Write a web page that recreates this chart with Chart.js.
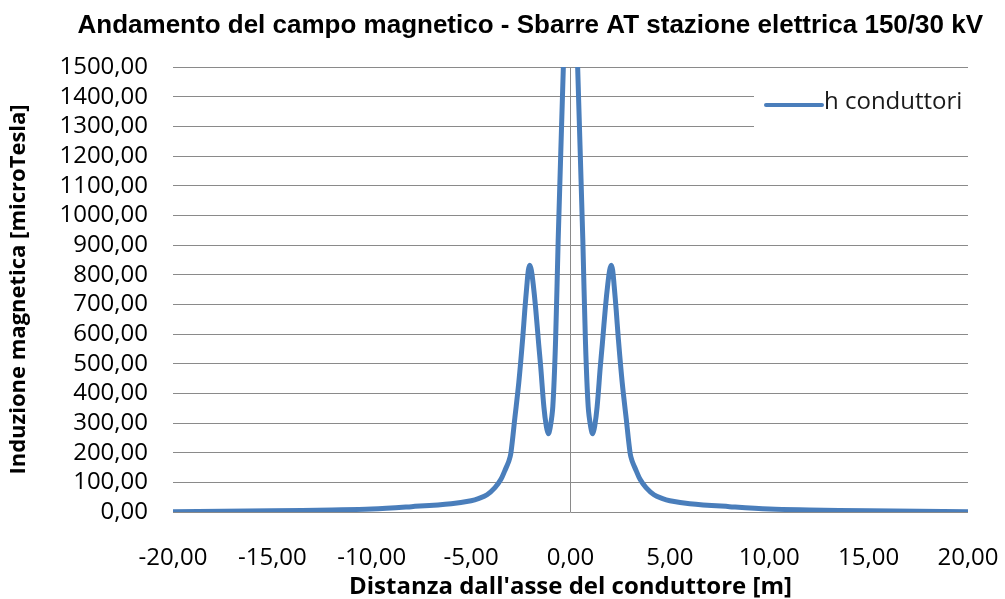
<!DOCTYPE html>
<html lang="it">
<head>
<meta charset="utf-8">
<title>Andamento del campo magnetico</title>
<script src="https://cdn.jsdelivr.net/npm/chart.js@4.4.1/dist/chart.umd.min.js"></script>
<style>
  html, body { margin: 0; padding: 0; background: #ffffff; }
  #box { width: 1005px; height: 599px; }
</style>
</head>
<body>
<div id="box"><canvas id="graficoCampo"></canvas></div>
<script>
// =========================================================
// 1. DATI
// =========================================================
// distanza dall'asse [m]
const distanze = [
  -20, -15, -12, -10, -8, -6, -5, -4.6, -4.2, -3.8, -3.5, -3.3, -3.1, -3.0, -2.8, -2.6, -2.4,
  -2.3, -2.2, -2.12, -2.05, -1.97, -1.88, -1.76, -1.6, -1.5, -1.34, -1.22, -1.12, -1.02,
  -0.89, -0.75, -0.62, -0.36, -0.15, 0,
  0.15, 0.36, 0.62, 0.75, 0.89, 1.02, 1.12, 1.22, 1.34, 1.5, 1.6, 1.76, 1.88, 1.97, 2.05,
  2.12, 2.2, 2.3, 2.4, 2.6, 2.8, 3.0, 3.1, 3.3, 3.5, 3.8, 4.2, 4.6, 5, 6, 8, 10, 12, 15, 20
];
// induzione magnetica [microTesla]
const induzione = [
  1, 4, 7, 10, 18, 28, 38, 46, 58, 82, 110, 140, 172, 198, 317, 437, 590,
  680, 760, 815, 832, 815, 770, 692, 565, 490, 355, 290, 264, 285,
  355, 580, 917, 1500, 2000, 2200,
  2000, 1500, 917, 580, 355, 285, 264, 290, 355, 490, 565, 692, 770, 815, 832,
  815, 760, 680, 590, 437, 317, 198, 172, 140, 110, 82, 58, 46, 38, 28, 18, 10, 7, 4, 1
];
const nomeSerie = 'h conduttori';
const titolo = 'Andamento del campo magnetico - Sbarre AT stazione elettrica 150/30 kV';
const titoloX = "Distanza dall'asse del conduttore [m]";
const titoloY = 'Induzione magnetica [microTesla]';

const FONT = "'Open Sans', sans-serif";
const FONT_TITOLO = "'Liberation Sans', sans-serif";
const GRIGIO = '#8a8a8a';
const BLU = '#4a7ebb';

// formato italiano: due decimali con la virgola
function formatoIT(v) {
  return Number(v).toFixed(2).replace('.', ',');
}

// =========================================================
// 2. TITOLO E LEGENDA DISEGNATI A MANO
// =========================================================
// Il titolo nell'originale non e' centrato sul canvas: lo allineo a destra.
const titoloPlugin = {
  id: 'titoloExcel',
  afterDraw(chart) {
    const { ctx } = chart;
    ctx.save();
    ctx.fillStyle = '#000000';
    ctx.font = 'bold 26px ' + FONT_TITOLO;
    ctx.textAlign = 'right';
    ctx.textBaseline = 'alphabetic';
    ctx.fillText(titolo, chart.width - 22, 33);
    ctx.restore();
  }
};

// Riquadro bianco della legenda che copre la griglia
const legendaPlugin = {
  id: 'legendaExcel',
  afterDatasetsDraw(chart) {
    const { ctx, chartArea } = chart;
    const ds = chart.data.datasets[0];
    const x0 = chartArea.right - 214;
    const y0 = chartArea.top + 18;
    ctx.save();
    ctx.fillStyle = '#ffffff';
    ctx.fillRect(x0, y0, 214, 52);
    ctx.strokeStyle = ds.borderColor;
    ctx.lineWidth = 4;
    ctx.lineCap = 'round';
    ctx.beginPath();
    ctx.moveTo(x0 + 12, y0 + 20);
    ctx.lineTo(x0 + 68, y0 + 20);
    ctx.stroke();
    ctx.fillStyle = '#1a1a1a';
    ctx.font = '24px ' + FONT;
    ctx.textBaseline = 'middle';
    ctx.fillText(ds.label, x0 + 70, y0 + 17);
    ctx.restore();
  }
};

// =========================================================
// 3. GRAFICO
// =========================================================
const ctx = document.getElementById('graficoCampo').getContext('2d');
const chartCampo = new Chart(ctx, {
  type: 'line',
  data: {
    datasets: [{
      label: nomeSerie,
      data: distanze.map((d, i) => ({ x: d, y: induzione[i] })),
      borderColor: BLU,
      borderWidth: 5,
      pointRadius: 0,
      tension: 0.35, // linea smussata come in Excel
      fill: false
    }]
  },
  options: {
    responsive: true,
    maintainAspectRatio: false,
    animation: false,
    layout: { padding: { left: 0, right: 37, top: 67, bottom: 0 } },
    plugins: {
      legend: { display: false },
      tooltip: { enabled: false },
      title: { display: false }
    },
    scales: {
      x: {
        type: 'linear',
        min: -20,
        max: 20,
        afterFit(scale) {
          scale.height = 87;
          scale.paddingLeft = 0;
          scale.paddingRight = 0;
        },
        ticks: {
          stepSize: 5,
          color: '#000000',
          padding: 32,
          maxRotation: 0,
          autoSkip: false,
          font: { family: FONT, size: 24 },
          callback: v => formatoIT(v)
        },
        grid: {
          drawTicks: false,
          color: c => (c.tick && c.tick.value === 0 ? GRIGIO : 'rgba(0,0,0,0)'),
          lineWidth: 1
        },
        border: { display: false },
        title: {
          display: true,
          text: titoloX,
          color: '#000000',
          font: { family: FONT, size: 24, weight: 'bold' },
          padding: { top: 0, bottom: -3 }
        }
      },
      y: {
        min: 0,
        max: 1500,
        afterFit(scale) {
          scale.width = 173;
          scale.paddingTop = 0;
          scale.paddingBottom = 0;
        },
        ticks: {
          stepSize: 100,
          color: '#000000',
          padding: 25,
          autoSkip: false,
          font: { family: FONT, size: 24 },
          callback: v => formatoIT(v)
        },
        grid: { drawTicks: false, color: GRIGIO, lineWidth: 1 },
        border: { display: false },
        title: {
          display: true,
          text: titoloY,
          color: '#000000',
          font: { family: FONT, size: 22, weight: 'bold' },
          padding: { top: 6, bottom: 0 }
        }
      }
    }
  },
  plugins: [legendaPlugin, titoloPlugin]
});
</script>
</body>
</html>
